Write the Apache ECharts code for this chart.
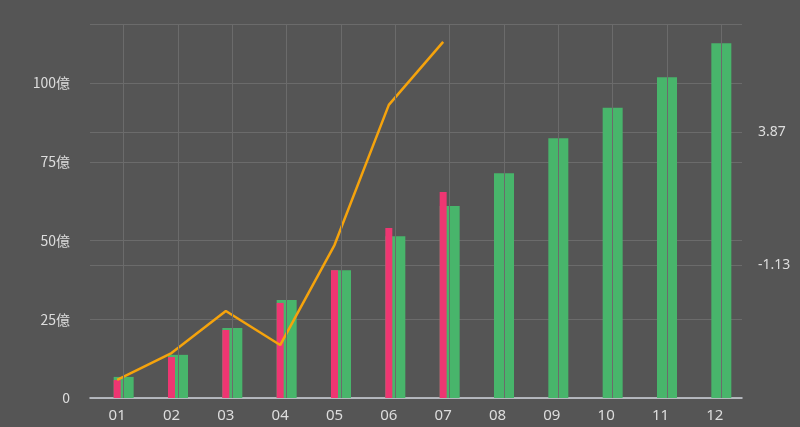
<!DOCTYPE html>
<html>
<head>
<meta charset="utf-8">
<script src="https://cdn.jsdelivr.net/npm/echarts@6/dist/echarts.min.js"></script>
<style>html,body{margin:0;padding:0;background:#555555;}#chart{width:800px;height:427px;}</style>
</head>
<body>
<div id="chart"></div>
<script>
//月份
var months = ['01', '02', '03', '04', '05', '06', '07', '08', '09', '10', '11', '12'];
//绿色柱（左轴，億）
var greenValues = [6.7, 13.7, 22.2, 31.1, 40.6, 51.4, 61, 71.4, 82.5, 92.2, 101.9, 112.7];
//红色柱（左轴，億）
var pinkValues = [5.7, 13, 21.6, 30.2, 40.6, 54, 65.4];
//折线（右轴）
var lineValues = [-5.45, -4.44, -2.86, -4.14, -0.38, 4.89, 7.26];

var mychart = echarts.init(document.getElementById('chart'));
var labelColor = '#dddddd';
var gridColor = '#6b6b6b';

var option = {
	backgroundColor: '#555555',
	animation: false,
	grid: { left: 90, right: 58, top: 24, bottom: 29 },
	xAxis: {
		type: 'category',
		data: months,
		axisLine: { lineStyle: { color: '#cfd3dc', width: 1.5 } },
		axisTick: { show: false },
		axisLabel: { color: labelColor, fontSize: 15, fontFamily: 'Noto Sans', margin: 10 },
		splitLine: { show: false }
	},
	yAxis: [{
		type: 'value',
		min: 0,
		max: 118.8,
		interval: 25,
		axisLine: { show: false },
		axisTick: { show: false },
		axisLabel: {
			color: labelColor, fontSize: 14, fontFamily: 'Noto Sans CJK TC', margin: 20,
			showMaxLabel: false,
			formatter: function (v) { return v === 0 ? '0' : v + '億'; }
		},
		splitLine: { lineStyle: { color: gridColor } }
	}, {
		type: 'value',
		min: -6.13,
		max: 7.93,
		interval: 5,
		axisLine: { show: false },
		axisTick: { show: false },
		axisLabel: { color: labelColor, fontSize: 14, fontFamily: 'Noto Sans', margin: 16,
			showMinLabel: false, showMaxLabel: false },
		splitLine: { lineStyle: { color: gridColor } }
	}],
	series: [{
		name: 'green',
		type: 'bar',
		data: greenValues,
		barWidth: 20,
		itemStyle: { color: '#48b56b' },
		markLine: {
			silent: true,
			symbol: 'none',
			label: { show: false },
			lineStyle: { color: gridColor, type: 'solid', width: 1 },
			data: months.map(function (m) { return { xAxis: m }; })
		}
	}, {
		name: 'pink',
		type: 'bar',
		data: pinkValues,
		barWidth: 7,
		barGap: '-100%',
		z: 3,
		itemStyle: { color: '#ee3672' }
	}, {
		name: 'line',
		type: 'line',
		yAxisIndex: 1,
		data: lineValues,
		symbol: 'none',
		z: 4,
		lineStyle: { color: '#f5a30c', width: 2.5 }
	}]
};
mychart.setOption(option);
</script>
</body>
</html>
